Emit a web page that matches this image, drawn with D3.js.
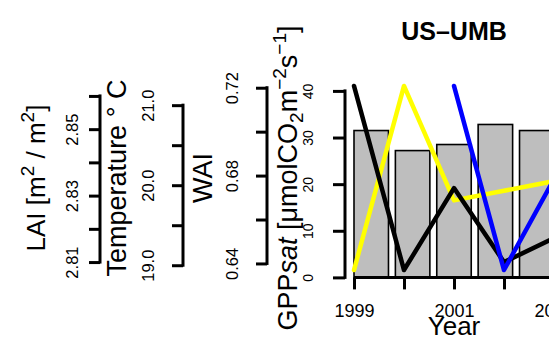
<!DOCTYPE html>
<html><head><meta charset="utf-8">
<script src="https://cdn.jsdelivr.net/npm/d3@7"></script>
<style>
body{margin:0;background:#fff}
svg{display:block}
text{font-family:"Liberation Sans",Arial,Helvetica,sans-serif;fill:#000}
</style>
</head><body>
<svg id="c" width="549" height="338"></svg>
<script>
// ---- data ----
const years = [1999, 2000, 2001, 2002, 2003];
const gppsat = [31.5, 27.2, 28.5, 32.8, 31.5];
const lai = [null, null, 2.863, 2.8076, 2.835];
const temperature = [18.94, 21.24, 19.81, 19.93, 20.05];
const wai = [0.7208, 0.6370, 0.6743, 0.6406, 0.6515];
const yearTicks = [1999, 2000, 2001, 2002, 2003];
const yearTickLabels = ["1999", "", "2001", "", "2003"];
const laiTicks = [2.81, 2.82, 2.83, 2.84, 2.85, 2.86];
const laiTickLabels = ["2.81", "", "2.83", "", "2.85", ""];
const tempTicks = [19.0, 19.5, 20.0, 20.5, 21.0];
const tempTickLabels = ["19.0", "", "20.0", "", "21.0"];
const waiTicks = [0.64, 0.66, 0.68, 0.70, 0.72];
const waiTickLabels = ["0.64", "", "0.68", "", "0.72"];
const gppTicks = [0, 10, 20, 30, 40];
const gppTickLabels = ["0", "10", "20", "30", "40"];
const siteTitle = "US\u2013UMB";

// ---- geometry ----
const L = 346, R = 562, T = 78.6, B = 277.4;
const svg = d3.select("#c");

function padded(arr) {
  const e = d3.extent(arr.filter(v => v != null));
  const r = e[1] - e[0];
  return [e[0] - 0.04 * r, e[1] + 0.04 * r];
}

const xYear = d3.scaleLinear().domain(padded(years)).range([L, R]);
const nb = gppsat.length;
const xBar = d3.scaleLinear().domain(padded([0.2, 1.2 * nb])).range([L, R]);
const yGpp = d3.scaleLinear().domain([0, 1.3 * d3.max(gppsat)]).range([B, T]);
const yLai = d3.scaleLinear().domain(padded(lai)).range([B, T]);
const yTemp = d3.scaleLinear().domain(padded(temperature)).range([B, T]);
const yWai = d3.scaleLinear().domain(padded(wai)).range([B, T]);

// ---- bars ----
svg.append("g").selectAll("rect").data(gppsat).join("rect")
  .attr("x", (d, i) => xBar(0.2 + 1.2 * i))
  .attr("width", (d, i) => xBar(1.2 + 1.2 * i) - xBar(0.2 + 1.2 * i))
  .attr("y", d => yGpp(d))
  .attr("height", d => yGpp(0) - yGpp(d))
  .attr("fill", "#bebebe").attr("stroke", "#000").attr("stroke-width", 1.6);

// ---- lines ----
function drawLine(vals, scale, color) {
  const pts = years.map((y, i) => ({x: y, v: vals[i]}));
  svg.append("path").datum(pts)
    .attr("d", d3.line().defined(d => d.v != null).x(d => xYear(d.x)).y(d => scale(d.v)))
    .attr("fill", "none").attr("stroke", color).attr("stroke-width", 4.5)
    .attr("stroke-linecap", "round").attr("stroke-linejoin", "round");
}
drawLine(temperature, yTemp, "#ffff00");
drawLine(wai, yWai, "#000000");
drawLine(lai, yLai, "#0000ff");

// ---- left axes ----
function leftAxis(scale, ticks, labels, axisX, tickLen, labelBaseX, fs) {
  const g = svg.append("g").attr("transform", `translate(${axisX},0)`);
  g.call(d3.axisLeft(scale).tickValues(ticks).tickSize(tickLen).tickSizeOuter(0)
    .tickFormat((d, i) => labels[i]));
  g.attr("font-family", null).attr("font-size", null);
  g.select(".domain").remove();
  g.append("line").attr("x1", 0).attr("x2", 0)
    .attr("y1", scale(ticks[0])).attr("y2", scale(ticks[ticks.length - 1]))
    .attr("stroke", "#000").attr("stroke-width", 3).attr("stroke-linecap", "square");
  g.selectAll(".tick line").attr("stroke", "#000").attr("stroke-width", 3);
  g.selectAll(".tick text")
    .attr("x", null).attr("dy", null).attr("fill", "#000")
    .attr("text-anchor", "middle").attr("font-size", fs)
    .attr("transform", `translate(${labelBaseX - axisX},0) rotate(-90)`);
  return g;
}
leftAxis(yLai, laiTicks, laiTickLabels, 100, 11, 77.5, 16.5);
leftAxis(yTemp, tempTicks, tempTickLabels, 183, 11, 154, 16.5);
leftAxis(yWai, waiTicks, waiTickLabels, 267, 11, 238, 16.5);
leftAxis(yGpp, gppTicks, gppTickLabels, 345, 12, 312.5, 14);

// ---- x axis ----
const gx = svg.append("g").attr("transform", `translate(0,${B})`);
gx.call(d3.axisBottom(xYear).tickValues(yearTicks).tickSize(12).tickSizeOuter(0)
  .tickFormat((d, i) => yearTickLabels[i]));
gx.attr("font-family", null).attr("font-size", null);
gx.select(".domain").remove();
gx.append("line").attr("x1", xYear(yearTicks[0])).attr("x2", xYear(yearTicks[yearTicks.length - 1]))
  .attr("y1", 0).attr("y2", 0).attr("stroke", "#000").attr("stroke-width", 3);
gx.selectAll(".tick line").attr("stroke", "#000").attr("stroke-width", 3);
gx.selectAll(".tick text").attr("dy", null).attr("y", 40).attr("font-size", 18).attr("fill", "#000");

// ---- axis titles ----
const cy = (T + B) / 2;
function rotLabel(x, fs) {
  return svg.append("text").attr("transform", `translate(${x},${cy}) rotate(-90)`)
    .attr("text-anchor", "middle").attr("font-size", fs);
}
const fsSmall = 19, sh = 11;
{
  const t = rotLabel(45, 26);
  t.append("tspan").text("LAI [m");
  t.append("tspan").attr("font-size", fsSmall).attr("dy", -sh).text("2");
  t.append("tspan").attr("dy", sh).text(" / m");
  t.append("tspan").attr("font-size", fsSmall).attr("dy", -sh).text("2");
  t.append("tspan").attr("dy", sh).text("]");
}
rotLabel(126, 27).text("Temperature \u00b0 C");
rotLabel(212, 27).text("WAI");
{
  const t = rotLabel(297, 27);
  t.append("tspan").text("GPP");
  t.append("tspan").attr("font-style", "italic").text("sat");
  t.append("tspan").text(" [\u03bcmolCO");
  t.append("tspan").attr("font-size", fsSmall).attr("dy", 6).text("2");
  t.append("tspan").attr("dy", -6).text("m");
  t.append("tspan").attr("font-size", fsSmall).attr("dy", -sh).text("\u22122");
  t.append("tspan").attr("dy", sh).text("s");
  t.append("tspan").attr("font-size", fsSmall).attr("dy", -sh).text("\u22121");
  t.append("tspan").attr("dy", sh).text("]");
}

svg.append("text").attr("x", (L + R) / 2).attr("y", 335).attr("text-anchor", "middle")
  .attr("font-size", 26).text("Year");
svg.append("text").attr("x", (L + R) / 2).attr("y", 40).attr("text-anchor", "middle")
  .attr("font-size", 25).attr("font-weight", "bold").attr("fill", "#222").text(siteTitle);
</script>
</body></html>
